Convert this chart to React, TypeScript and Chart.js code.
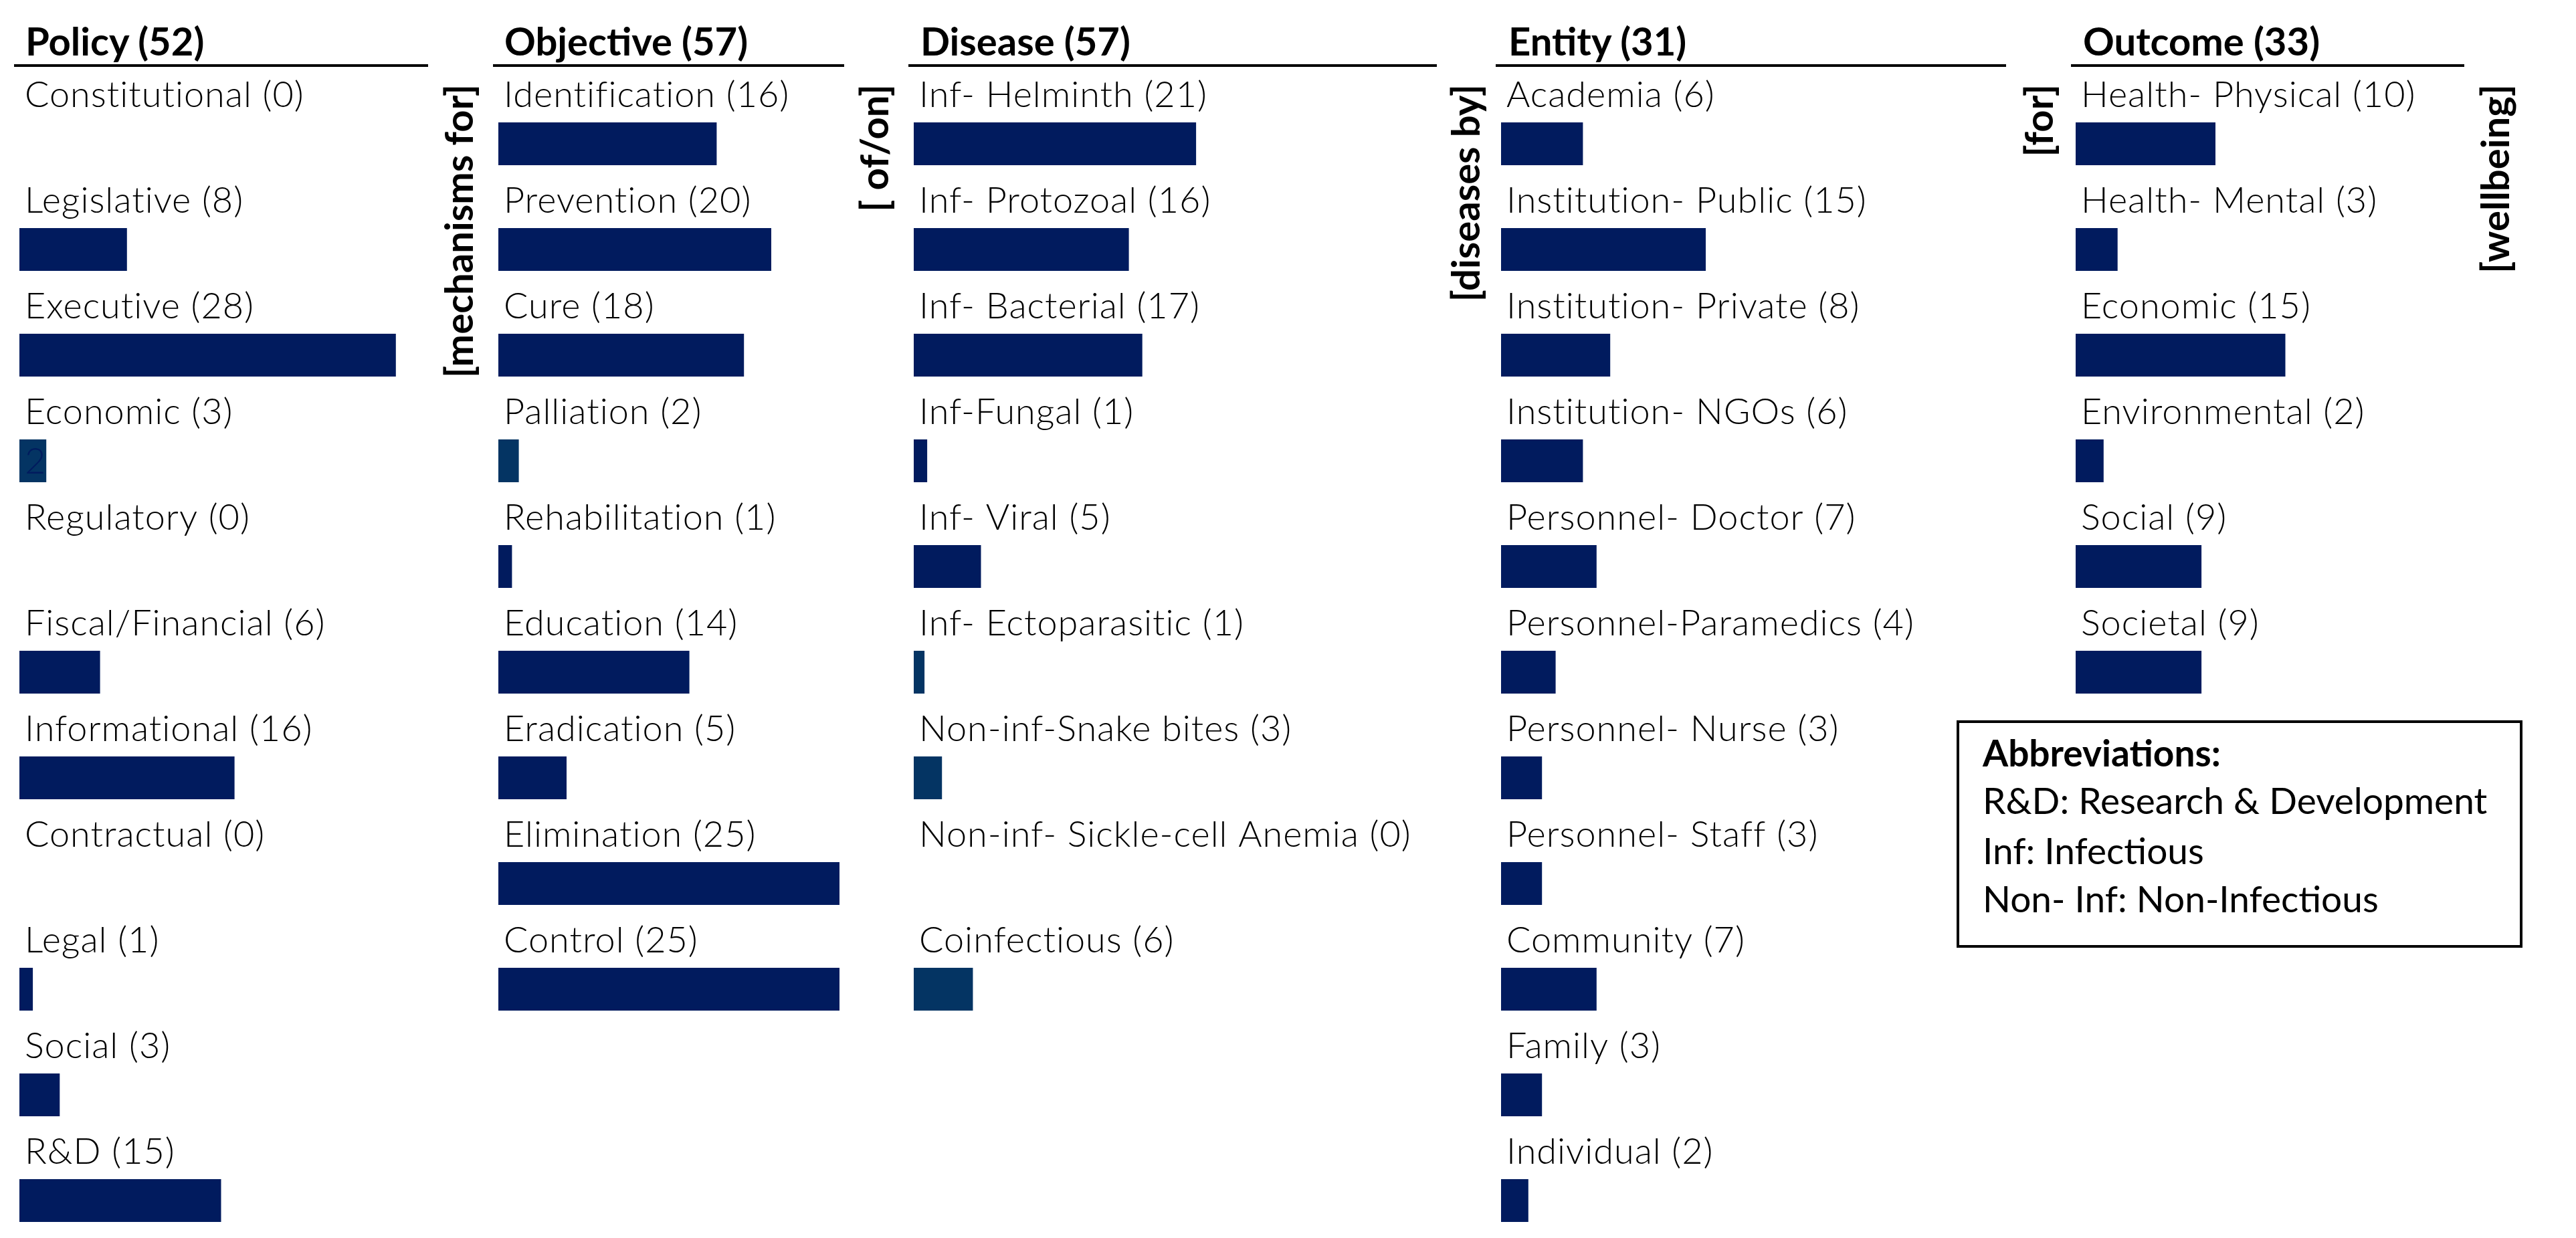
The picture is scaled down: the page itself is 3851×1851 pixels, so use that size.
import React, { useEffect, useRef } from "react";
import { Chart, registerables } from "chart.js";

Chart.register(...registerables);

// ---------------- data ----------------
const policyNames = ["Constitutional", "Legislative", "Executive", "Economic", "Regulatory", "Fiscal/Financial", "Informational", "Contractual", "Legal", "Social", "R&D"];
const policyCounts = [0, 8, 28, 3, 0, 6, 16, 0, 1, 3, 15];
const policyBars = [0, 8, 28, 2, 0, 6, 16, 0, 1, 3, 15];

const objectiveNames = ["Identification", "Prevention", "Cure", "Palliation", "Rehabilitation", "Education", "Eradication", "Elimination", "Control"];
const objectiveCounts = [16, 20, 18, 2, 1, 14, 5, 25, 25];
const objectiveBars = [16, 20, 18, 1.5, 1, 14, 5, 25, 25];

const diseaseNames = ["Inf- Helminth", "Inf- Protozoal", "Inf- Bacterial", "Inf-Fungal", "Inf- Viral", "Inf- Ectoparasitic", "Non-inf-Snake bites", "Non-inf- Sickle-cell Anemia", "Coinfectious"];
const diseaseCounts = [21, 16, 17, 1, 5, 1, 3, 0, 6];
const diseaseBars = [21, 16, 17, 1, 5, 0.8, 2.1, 0, 4.4];

const entityNames = ["Academia", "Institution- Public", "Institution- Private", "Institution- NGOs", "Personnel- Doctor", "Personnel-Paramedics", "Personnel- Nurse", "Personnel- Staff", "Community", "Family", "Individual"];
const entityCounts = [6, 15, 8, 6, 7, 4, 3, 3, 7, 3, 2];
const entityBars = [6, 15, 8, 6, 7, 4, 3, 3, 7, 3, 2];

const outcomeNames = ["Health- Physical", "Health- Mental", "Economic", "Environmental", "Social", "Societal"];
const outcomeCounts = [10, 3, 15, 2, 9, 9];
const outcomeBars = [10, 3, 15, 2, 9, 9];

const panelTitles = ["Policy", "Objective", "Disease", "Entity", "Outcome"];
const panelTotals = [52, 57, 57, 31, 33];

const connectorTexts = ["[mechanisms for]", "[ of/on]", "[diseases by]", "[for]", "[wellbeing]"];

const policyLighter = ["Economic"];
const objectiveLighter = ["Palliation"];
const diseaseLighter = ["Inf- Ectoparasitic", "Non-inf-Snake bites", "Coinfectious"];
const policyInner: Record<string, string> = { Economic: "2" };

const abbreviationTitle = "Abbreviations:";
const abbreviationLines = ["R&D: Research & Development", "Inf: Infectious", "Non- Inf: Non-Infectious"];

// ---------------- style / layout ----------------
const DARK = "#011B5E";
const LIGHT = "#043463";
const FONT = "Lato, 'Open Sans', sans-serif";
const LABEL_FONT = `300 54px ${FONT}`;
const CANVAS_TOP = 100;
const PAD_TOP = 36;
const ROW_PITCH = 158;
const BAR_THICK = 64;
const LABEL_DX = 8;
const LABEL_GAP = 23;

type Panel = {
  names: string[];
  counts: number[];
  bars: number[];
  lighter: string[];
  inner: Record<string, string>;
  barLeft: number;
  ppu: number;
  width: number;
  titleX: number;
  lineX1: number;
  lineX2: number;
};

const PANELS: Panel[] = [
  { names: policyNames, counts: policyCounts, bars: policyBars, lighter: policyLighter, inner: policyInner, barLeft: 29, ppu: 20.1, width: 620, titleX: 38, lineX1: 21, lineX2: 640 },
  { names: objectiveNames, counts: objectiveCounts, bars: objectiveBars, lighter: objectiveLighter, inner: {}, barLeft: 745, ppu: 20.4, width: 530, titleX: 754, lineX1: 737, lineX2: 1262 },
  { names: diseaseNames, counts: diseaseCounts, bars: diseaseBars, lighter: diseaseLighter, inner: {}, barLeft: 1366, ppu: 20.1, width: 820, titleX: 1376, lineX1: 1358, lineX2: 2148 },
  { names: entityNames, counts: entityCounts, bars: entityBars, lighter: [], inner: {}, barLeft: 2244, ppu: 20.4, width: 760, titleX: 2255, lineX1: 2236, lineX2: 2999 },
  { names: outcomeNames, counts: outcomeCounts, bars: outcomeBars, lighter: [], inner: {}, barLeft: 3103, ppu: 20.9, width: 620, titleX: 3114, lineX1: 3096, lineX2: 3684 },
];

const CONNECTOR_CX = [690, 1311, 2195, 3052, 3734];

function BarPanel({ p }: { p: Panel }) {
  const ref = useRef<HTMLCanvasElement>(null);
  useEffect(() => {
    const canvas = ref.current;
    if (!canvas) return;
    const labels = p.names.map((n, i) => `${n} (${p.counts[i]})`);
    const colors = p.names.map((n) => (p.lighter.includes(n) ? LIGHT : DARK));
    const rowLabels = {
      id: "rowLabels",
      afterDatasetsDraw(chart: any) {
        const ctx = chart.ctx;
        const meta = chart.getDatasetMeta(0);
        ctx.save();
        ctx.font = LABEL_FONT;
        (ctx as any).letterSpacing = "1px";
        ctx.textAlign = "left";
        meta.data.forEach((bar: any, i: number) => {
          const { y, height, base } = bar.getProps(["y", "height", "base"], true);
          const top = y - height / 2;
          ctx.fillStyle = "#000";
          ctx.textBaseline = "alphabetic";
          ctx.fillText(labels[i], base + LABEL_DX, top - LABEL_GAP);
          const inner = p.inner[p.names[i]];
          if (inner) {
            ctx.fillStyle = DARK;
            ctx.textBaseline = "middle";
            ctx.fillText(inner, base + LABEL_DX, y + 2);
          }
        });
        ctx.restore();
      },
    };
    const chart = new Chart(canvas, {
      type: "bar",
      data: {
        labels,
        datasets: [
          {
            data: p.bars,
            backgroundColor: colors,
            borderWidth: 0,
            inflateAmount: 0,
            barThickness: BAR_THICK,
          },
        ],
      },
      options: {
        indexAxis: "y",
        responsive: false,
        animation: false,
        devicePixelRatio: 1,
        layout: { padding: { top: PAD_TOP, left: 0, right: 0, bottom: 0 } },
        scales: {
          x: { type: "linear", min: 0, max: p.width / p.ppu, display: false },
          y: { type: "category", display: false, offset: true },
        },
        plugins: {
          legend: { display: false },
          tooltip: { enabled: false },
          title: { display: false },
        },
      },
      plugins: [rowLabels],
    } as any);
    return () => chart.destroy();
  }, [p]);
  return (
    <canvas
      ref={ref}
      width={p.width}
      height={PAD_TOP + ROW_PITCH * p.names.length}
      style={{ position: "absolute", left: p.barLeft, top: CANVAS_TOP }}
    />
  );
}

const TITLE_SIZE = 58;
const CONN_SIZE = 58;
const BOX_SIZE = 55;

export default function App() {
  useEffect(() => {
    document.body.style.margin = "0";
    document.body.style.overflow = "hidden";
  }, []);
  return (
    <div style={{ position: "relative", width: 3851, height: 1851, overflow: "hidden", background: "#fff", fontFamily: FONT, color: "#000" }}>
      {PANELS.map((p, i) => (
        <React.Fragment key={i}>
          <div
            style={{
              position: "absolute",
              left: p.titleX,
              top: 83 - 0.887 * TITLE_SIZE,
              fontSize: TITLE_SIZE,
              lineHeight: 1,
              fontWeight: 700,
              whiteSpace: "nowrap",
            }}
          >
            {`${panelTitles[i]} (${panelTotals[i]})`}
          </div>
          <div style={{ position: "absolute", left: p.lineX1, top: 96, width: p.lineX2 - p.lineX1, height: 4, background: "#000" }} />
          <BarPanel p={p} />
        </React.Fragment>
      ))}
      {connectorTexts.map((t, i) => (
        <div
          key={t}
          style={{
            position: "absolute",
            left: CONNECTOR_CX[i] - 0.58 * CONN_SIZE,
            top: 126 + 700,
            width: 700,
            height: CONN_SIZE,
            lineHeight: `${CONN_SIZE}px`,
            fontSize: CONN_SIZE,
            fontWeight: 700,
            textAlign: "right",
            whiteSpace: "pre",
            transform: "rotate(-90deg)",
            transformOrigin: "top left",
          }}
        >
          {t}
        </div>
      ))}
      <div
        style={{
          position: "absolute",
          left: 2925,
          top: 1077,
          width: 3771 - 2925,
          height: 1417 - 1077,
          border: "4px solid #000",
          boxSizing: "border-box",
        }}
      />
      <div style={{ position: "absolute", left: 2964, top: 1147 - 0.887 * BOX_SIZE, fontSize: BOX_SIZE, lineHeight: 1, fontWeight: 700, whiteSpace: "nowrap" }}>
        {abbreviationTitle}
      </div>
      {abbreviationLines.map((t, i) => (
        <div
          key={t}
          style={{ position: "absolute", left: 2964, top: [1218, 1293, 1365][i] - 0.887 * BOX_SIZE, fontSize: BOX_SIZE, lineHeight: 1, fontWeight: 400, whiteSpace: "nowrap" }}
        >
          {t}
        </div>
      ))}
    </div>
  );
}
